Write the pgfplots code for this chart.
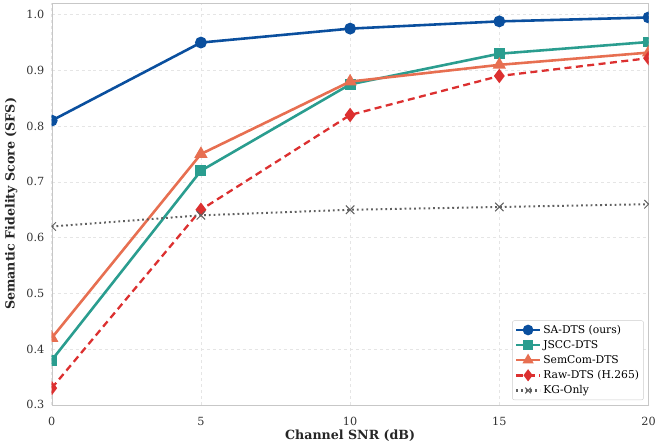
\documentclass[border=0pt]{standalone}
\usepackage{fontspec}
\setmainfont{DejaVu Serif}
\usepackage{pgfplots}
\pgfplotsset{compat=1.18}
\definecolor{cblue}{HTML}{0A4F9E}
\definecolor{cteal}{HTML}{2A9D8F}
\definecolor{corange}{HTML}{E76F51}
\definecolor{cred}{HTML}{DC3030}
\definecolor{cgray}{HTML}{606060}
\begin{document}
\begin{tikzpicture}
\begin{axis}[
  name=ax,
  scale only axis,
  width=600pt, height=404pt,
  xmin=0, xmax=20, ymin=0.3, ymax=1.021,
  xtick={0,5,10,15,20},
  ytick={0.3,0.4,0.5,0.6,0.7,0.8,0.9,1.0},
  yticklabel style={/pgf/number format/fixed, /pgf/number format/fixed zerofill, /pgf/number format/precision=1, xshift=-4pt},
  /pgf/number format/assume math mode=true,
  tick label style={font=\fontsize{11.3}{13}\selectfont, text=black!80},
  xticklabel style={yshift=-9pt},
  major tick length=0pt,
  axis line style={black!22},
  grid=major,
  major grid style={dashed, black!10, line width=0.6pt},
  clip marker paths=true,
  xlabel={\textbf{Channel SNR (dB)}},
  ylabel={\textbf{Semantic Fidelity Score (SFS)}},
  label style={font=\fontsize{12.7}{15}\selectfont, text=black!85},
  xlabel style={yshift=2.5pt},
  ylabel style={yshift=2pt},
  legend style={font=\fontsize{10.8}{12}\selectfont, draw=black!20, rounded corners=2pt, fill=white, row sep=1.6pt, at={(0.992,0.012)}, anchor=south east, inner sep=2.5pt},
  legend cell align=left,
  legend image post style={line width=2.6pt},
  legend image code/.code={\draw[mark repeat=2,mark phase=2,mark size=4pt] plot coordinates {(0pt,0pt) (12pt,0pt) (24pt,0pt)};},
]
\addplot[cblue, line width=2.6pt, mark=*, mark size=4.6pt] coordinates {(0,0.81) (5,0.95) (10,0.975) (15,0.988) (20,0.995)};
\addlegendentry{SA-DTS (ours)}
\addplot[cteal, line width=2.6pt, mark=square*, mark size=4.2pt] coordinates {(0,0.38) (5,0.72) (10,0.875) (15,0.93) (20,0.951)};
\addlegendentry{JSCC-DTS}
\addplot[corange, line width=2.6pt, mark=triangle*, mark size=5.2pt] coordinates {(0,0.42) (5,0.75) (10,0.88) (15,0.91) (20,0.932)};
\addlegendentry{SemCom-DTS}
\addplot[cred, line width=2.3pt, dash pattern=on 7pt off 4.5pt, mark=diamond*, mark size=5.4pt, mark options={solid}] coordinates {(0,0.33) (5,0.65) (10,0.82) (15,0.89) (20,0.922)};
\addlegendentry{Raw-DTS (H.265)}
\addplot[cgray, line width=2pt, dash pattern=on 1.8pt off 3pt, mark=x, mark size=6pt, mark options={solid, line width=1pt}] coordinates {(0,0.62) (5,0.64) (10,0.65) (15,0.655) (20,0.66)};
\addlegendentry{KG-Only}
\end{axis}
\path (ax.south west) ++(-52pt,-41pt);
\path (ax.north east) ++(7pt,3pt);
\end{tikzpicture}
\end{document}
